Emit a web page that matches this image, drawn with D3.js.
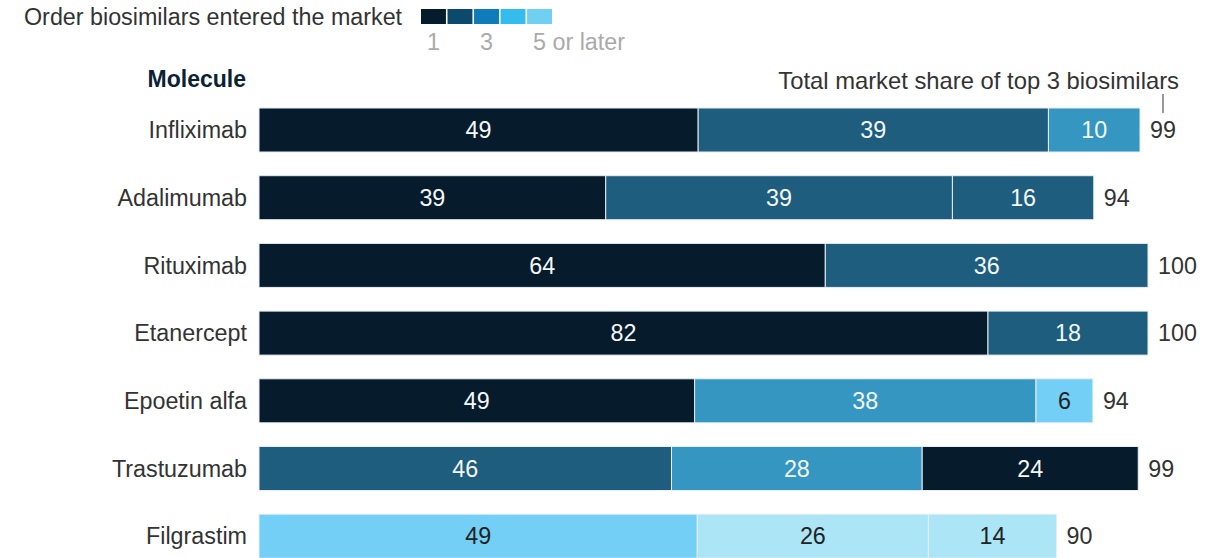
<!DOCTYPE html>
<html lang="en">
<head>
  <meta charset="UTF-8">
  <title>Biosimilars market share</title>
  <script src="https://d3js.org/d3.v7.min.js"></script>
  <style>
    body {
      margin: 0;
      padding: 0;
      background-color: #fff;
      font-family: "Liberation Sans", Arial, sans-serif;
    }
    svg {
      display: block;
    }
  </style>
</head>
<body>
  <svg id="chart"></svg>
  <script>
const width = 1227;
const height = 558;
const fs = 23.3; // base font size

// Data
const molecules = ["Infliximab", "Adalimumab", "Rituximab", "Etanercept", "Epoetin alfa", "Trastuzumab", "Filgrastim"];
const shares = [
  [49.4, 39.4, 10.3],
  [39.0, 39.0, 15.9],
  [63.7, 36.3],
  [82.0, 18.0],
  [49.0, 38.4, 6.4],
  [46.4, 28.2, 24.3],
  [49.3, 26.0, 14.4]
];
// entry order of each segment (1 = first)
const entryOrder = [
  [1, 2, 3],
  [1, 2, 2],
  [1, 2],
  [1, 2],
  [1, 3, 5],
  [2, 3, 1],
  [5, 6, 6]
];
const totals = [99, 94, 100, 100, 94, 99, 90];
const legendColors = ["#051c2c", "#0b4a6d", "#0d7cb8", "#35bcee", "#70d0f2"];
const legendLabels = [{ i: 0, t: "1" }, { i: 2, t: "3" }, { i: 4, t: "5 or later" }];
const barColors = { 1: "#061c2c", 2: "#1f5d7f", 3: "#3696c2", 4: "#5cc2ec", 5: "#73cff6", 6: "#ace5f6" };
const darkText = { 5: true, 6: true };

const svg = d3.select("#chart")
  .attr("width", width)
  .attr("height", height);

const x = d3.scaleLinear().domain([0, 100]).range([259, 1148]);
const y = d3.scaleBand().domain(molecules).range([108, 558.2]).paddingInner(0.35).paddingOuter(0);
const fmt = d3.format(".0f");

// legend
svg.append("text")
  .attr("x", 24).attr("y", 25)
  .attr("font-size", fs).attr("fill", "#333")
  .text("Order biosimilars entered the market");

const legX = d3.scaleBand().domain(d3.range(legendColors.length)).range([421, 552]).paddingInner(0.06);
svg.selectAll("rect.leg")
  .data(legendColors)
  .join("rect")
  .attr("class", "leg")
  .attr("x", (d, i) => legX(i))
  .attr("y", 9)
  .attr("width", legX.bandwidth())
  .attr("height", 15)
  .attr("fill", d => d);

svg.selectAll("text.leglab")
  .data(legendLabels)
  .join("text")
  .attr("class", "leglab")
  .attr("x", d => legX(d.i) + 6)
  .attr("y", 50)
  .attr("font-size", fs)
  .attr("fill", "#aaa")
  .text(d => d.t);

svg.append("text")
  .attr("x", 246).attr("y", 87)
  .attr("text-anchor", "end")
  .attr("font-size", 23).attr("font-weight", "bold").attr("fill", "#0b2236")
  .text("Molecule");

svg.append("text")
  .attr("x", 1179).attr("y", 89)
  .attr("text-anchor", "end")
  .attr("font-size", 23.8).attr("fill", "#333")
  .text("Total market share of top 3 biosimilars");

svg.append("line")
  .attr("x1", 1163).attr("x2", 1163)
  .attr("y1", 94).attr("y2", 113)
  .attr("stroke", "#555").attr("stroke-width", 1.2);

// rows
const rows = svg.selectAll("g.row")
  .data(molecules)
  .join("g")
  .attr("class", "row")
  .attr("transform", d => `translate(0,${y(d)})`);

rows.append("text")
  .attr("x", 247)
  .attr("y", y.bandwidth() / 2)
  .attr("dy", "0.35em")
  .attr("text-anchor", "end")
  .attr("font-size", fs)
  .attr("fill", "#333")
  .text(d => d);

rows.each(function (name, r) {
  const g = d3.select(this);
  let acc = 0;
  const segs = shares[r].map((v, k) => {
    const s = { v, x0: acc, order: entryOrder[r][k] };
    acc += v;
    return s;
  });

  g.selectAll("rect.seg")
    .data(segs)
    .join("rect")
    .attr("class", "seg")
    .attr("x", d => x(d.x0))
    .attr("y", 0)
    .attr("width", d => x(d.x0 + d.v) - x(d.x0))
    .attr("height", y.bandwidth())
    .attr("fill", d => barColors[d.order])
    .attr("stroke", "#e6eef2")
    .attr("stroke-width", 1);

  g.selectAll("text.val")
    .data(segs)
    .join("text")
    .attr("class", "val")
    .attr("x", d => x(d.x0 + d.v / 2))
    .attr("y", y.bandwidth() / 2)
    .attr("dy", "0.35em")
    .attr("text-anchor", "middle")
    .attr("font-size", fs)
    .attr("fill", d => darkText[d.order] ? "#222" : "#f4f8fa")
    .text(d => fmt(d.v));

  g.append("text")
    .attr("x", x(acc) + 10)
    .attr("y", y.bandwidth() / 2)
    .attr("dy", "0.35em")
    .attr("font-size", fs)
    .attr("fill", "#333")
    .text(totals[r]);
});
  </script>
</body>
</html>
